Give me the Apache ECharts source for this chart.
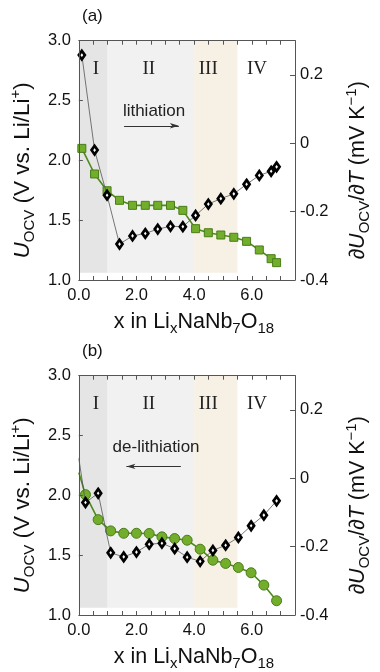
<!DOCTYPE html>
<html><head><meta charset="utf-8">
<script src="https://cdn.jsdelivr.net/npm/echarts@6/dist/echarts.min.js"></script>
<style>html,body{margin:0;padding:0;background:#fff}#c{width:380px;height:672px}</style>
</head><body><div id="c"></div>
<script>
// ---- data ----
// Panel (a): lithiation
const xLith = [0.104,0.546,0.979,1.411,1.863,2.305,2.738,3.180,3.609,4.051,4.493,4.926,5.377,5.820,6.261,6.672,6.861];
const uLith = [2.100,1.886,1.746,1.666,1.624,1.624,1.624,1.624,1.582,1.429,1.395,1.376,1.357,1.323,1.251,1.178,1.145];
const dLith = [0.258,-0.020,-0.152,-0.295,-0.271,-0.264,-0.251,-0.243,-0.244,-0.211,-0.178,-0.162,-0.148,-0.120,-0.094,-0.082,-0.069];
// Panel (b): de-lithiation (first entry = where the curves enter at the left edge, no marker)
const xDelith = [0,0.230,0.670,1.105,1.557,1.999,2.441,2.883,3.325,3.758,4.209,4.651,5.093,5.535,5.977,6.419,6.861];
const uDelith = [2.190,2.006,1.797,1.703,1.683,1.683,1.681,1.653,1.639,1.625,1.550,1.458,1.431,1.397,1.353,1.250,1.119];
const dDelith = [0.058,-0.071,-0.044,-0.218,-0.230,-0.216,-0.193,-0.190,-0.206,-0.231,-0.243,-0.211,-0.196,-0.173,-0.139,-0.108,-0.066];
// Regions
const regionNames = ['I','II','III','IV'];
const regionEdges = [0, 1, 4, 5.5];
// Tick labels
const xTickLabels = [0, 2, 4, 6];
const uTickLabels = [1.0, 1.5, 2.0, 2.5, 3.0];
const dTickLabels = [-0.4, -0.2, 0, 0.2];
const panelLabels = ['(a)', '(b)'];
const arrowTexts = ['lithiation', 'de-lithiation'];

// ---- chart ----
const FONT = "'Liberation Sans', Arial, Helvetica, sans-serif";
const SERIF = "'Liberation Serif', 'Times New Roman', serif";
const AX = '#555';
const gridTops = [40.7, 375.7];
const near = (a, b) => Math.abs(a - b) < 1e-6;

function makeRich(size) {
  const main = {fontSize: size, fontFamily: FONT, color: '#111', lineHeight: Math.round(size * 1.3)};
  const small = Math.round(size * 0.68);
  return {
    m: main,
    i: Object.assign({}, main, {fontStyle: 'italic'}),
    s: {fontSize: small, fontFamily: FONT, color: '#111', lineHeight: small, verticalAlign: 'bottom'},
    p: {fontSize: small, fontFamily: FONT, color: '#111', lineHeight: small, verticalAlign: 'top'}
  };
}

const grids = [], xAxes = [], yAxes = [], series = [], titles = [];

function addPanel(k, xs, us, ds, greenSymbol, greenSize, arrow, textPos, skipFirst) {
  grids.push({left: 76, top: gridTops[k], width: 237.5, height: 239.3, containLabel: false});
  const tickStyle = {show: true, inside: true, length: 4, lineStyle: {color: AX, width: 1}};
  xAxes.push({
    gridIndex: k, type: 'value', min: 0, max: 7.5, interval: 0.5, z: 10, position: 'bottom',
    axisLine: {show: true, onZero: false, lineStyle: {color: AX, width: 1}},
    axisTick: tickStyle, splitLine: {show: false},
    axisLabel: {
      margin: 7, fontSize: 16.5, fontFamily: FONT, color: '#111',
      formatter: v => xTickLabels.some(t => near(t, v)) ? v.toFixed(1) : ''
    },
    name: '{m|x in Li}{s|x}{m|NaNb}{s|7}{m|O}{s|18}',
    nameLocation: 'middle', nameGap: 28,
    nameTextStyle: {rich: makeRich(21.5), padding: [0, 0, 0, 14]}
  });
  xAxes.push({
    gridIndex: k, type: 'value', min: 0, max: 7.5, interval: 0.5, position: 'top', z: 10,
    axisLine: {show: true, onZero: false, lineStyle: {color: AX, width: 1}},
    axisTick: tickStyle, axisLabel: {show: false}, splitLine: {show: false}
  });
  yAxes.push({
    gridIndex: k, type: 'value', min: 1, max: 3, interval: 0.5, position: 'left', z: 10,
    axisLine: {show: true, onZero: false, lineStyle: {color: AX, width: 1}},
    axisTick: tickStyle, splitLine: {show: false},
    axisLabel: {
      margin: 8, fontSize: 16.5, fontFamily: FONT, color: '#111',
      formatter: v => uTickLabels.some(t => near(t, v)) ? v.toFixed(1) : ''
    },
    name: '{i|U}{s|OCV}{m| (V vs. Li/Li}{p|+}{m|)}',
    nameLocation: 'middle', nameRotate: 90, nameGap: 25,
    nameTextStyle: {rich: makeRich(22.5), padding: [0, 20, 0, 0]}
  });
  yAxes.push({
    gridIndex: k, type: 'value', min: -0.4, max: 0.3, interval: 0.2, position: 'right', z: 10,
    axisLine: {show: true, onZero: false, lineStyle: {color: AX, width: 1}},
    axisTick: {show: true, inside: true, length: 5, lineStyle: {color: AX, width: 1}},
    splitLine: {show: false},
    axisLabel: {
      margin: 5, fontSize: 16.5, fontFamily: FONT, color: '#111', showMaxLabel: false,
      formatter: v => {
        const t = dTickLabels.find(t => near(t, v));
        if (t === undefined) return '';
        return near(t, 0) ? '0' : t.toFixed(1);
      }
    },
    name: '{m|\u2202}{i|U}{s|OCV}{m|/\u2202}{i|T}{m| (mV K}{p|\u22121}{m|)}',
    nameLocation: 'middle', nameRotate: 90, nameGap: 49,
    nameTextStyle: {rich: makeRich(21.5), padding: [0, 20, 0, 0]}
  });

  const regionColors = ['#e5e5e5', '#f1f1f1', '#f6f1e4'];
  const areas = [];
  for (let r = 0; r < 3; r++) {
    areas.push([{xAxis: regionEdges[r], yAxis: 1.06, itemStyle: {color: regionColors[r]}},
                {xAxis: regionEdges[r + 1], yAxis: 3}]);
  }
  const romanX = [0.59, 2.43, 4.49, 6.18];
  const labelData = regionNames.map((n, r) => ({
    name: n, coord: [romanX[r], 2.765],
    label: {fontFamily: SERIF, fontSize: 19, color: '#222'}
  }));
  labelData.push({name: arrowTexts[k], coord: textPos, label: {fontFamily: FONT, fontSize: 17, color: '#222'}});

  const gData = xs.map((x, j) => (skipFirst && j === 0) ? {value: [x, us[j]], symbol: 'none'} : [x, us[j]]);
  const bData = xs.map((x, j) => (skipFirst && j === 0) ? {value: [x, ds[j]], symbol: 'none'} : [x, ds[j]]);

  series.push({
    type: 'line', xAxisIndex: 2 * k, yAxisIndex: 2 * k, data: gData,
    symbol: greenSymbol, symbolSize: greenSize, showSymbol: true,
    lineStyle: {color: '#4b8a1c', width: 1.6},
    itemStyle: {color: '#72ad2c', borderColor: '#4a7d18', borderWidth: 1},
    clip: true, silent: true, z: 3,
    markArea: {silent: true, data: areas, itemStyle: {opacity: 1}, z: 1},
    markPoint: {
      silent: true, symbol: 'circle', symbolSize: 0, data: labelData,
      label: {show: true, position: 'inside', formatter: '{b}'}
    },
    markLine: {
      silent: true, symbol: ['none', 'arrow'], symbolSize: [4, 9],
      lineStyle: {color: '#333', width: 1, type: 'solid'},
      label: {show: false},
      data: [[{coord: arrow[0]}, {coord: arrow[1]}]]
    }
  });
  series.push({
    type: 'line', xAxisIndex: 2 * k, yAxisIndex: 2 * k + 1, data: bData,
    symbol: 'diamond', symbolSize: [6, 8.5], showSymbol: true,
    lineStyle: {color: '#555', width: 0.8},
    itemStyle: {color: '#fff', borderColor: '#000', borderWidth: 2.8},
    clip: true, silent: true, z: 4
  });
  titles.push({
    text: panelLabels[k], left: 77, top: gridTops[k] - 38,
    textStyle: {fontSize: 17, fontWeight: 'normal', fontFamily: FONT, color: '#111'}
  });
}

addPanel(0, xLith, uLith, dLith, 'rect', 8, [[1.57, 2.289], [3.47, 2.289]], [2.61, 2.406], false);
addPanel(1, xDelith, uDelith, dDelith, 'circle', 10, [[3.54, 2.242], [1.65, 2.242]], [2.68, 2.40], true);

const chart = echarts.init(document.getElementById('c'), null, {renderer: 'canvas'});
chart.setOption({
  animation: false,
  backgroundColor: '#fff',
  title: titles,
  grid: grids,
  xAxis: xAxes,
  yAxis: yAxes,
  series: series
});
</script>
</body></html>
